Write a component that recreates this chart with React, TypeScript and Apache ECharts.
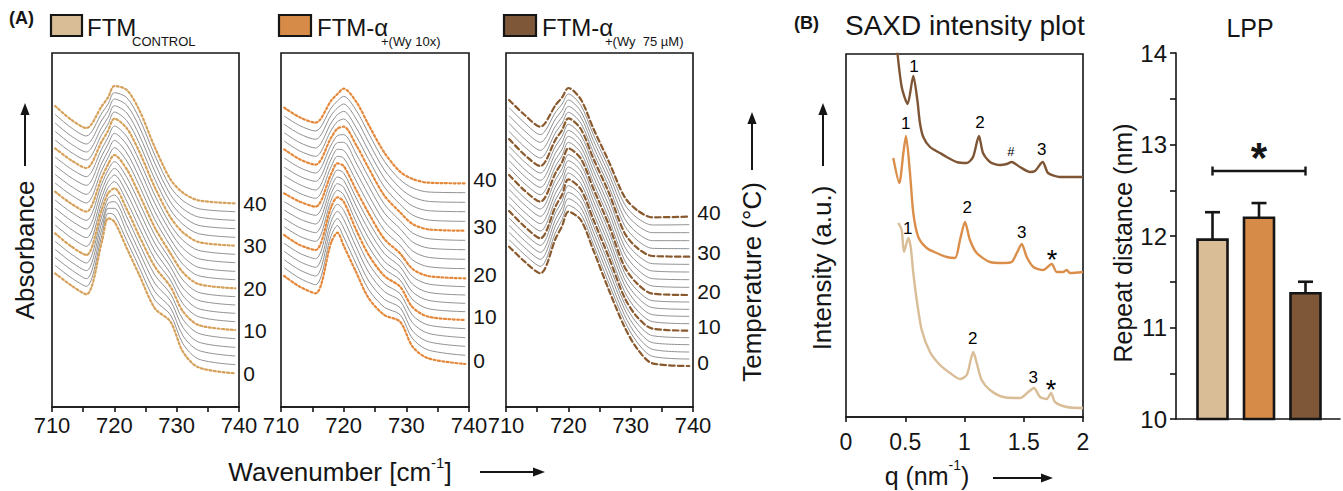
import { useEffect, useRef } from "react";
import * as echarts from "echarts";

// ---------- Panel A: temperature-dependent FTIR spectra (CH2 rocking region) ----------
const WAVENUMBER = [710.5, 713, 715.5, 718, 719, 720, 722, 724, 726.5, 729, 731, 733.5, 739.4];
const WAVENUMBER_TICKS = [710, 720, 730, 740];
const TEMPERATURE = [40, 38, 36, 34, 32, 30, 28, 26, 24, 22, 20, 18, 16, 14, 12, 10, 8, 6, 4, 2, 0];
const LABELLED_TEMPERATURE = [40, 30, 20, 10, 0];

// stacked absorbance (offset, mAU) — one row per temperature, same order as TEMPERATURE
const ABS_CONTROL = [
  [903, 863, 837, 903, 929, 963, 951, 891, 779, 683, 643, 620, 611],
  [878, 839, 813, 882, 909, 943, 928, 866, 755, 660, 619, 595, 586],
  [852, 814, 789, 861, 889, 924, 905, 841, 731, 637, 595, 570, 560],
  [827, 790, 765, 839, 869, 904, 882, 816, 707, 615, 572, 545, 535],
  [801, 765, 741, 818, 849, 885, 859, 791, 683, 592, 548, 520, 509],
  [776, 741, 717, 797, 829, 865, 836, 766, 659, 569, 524, 495, 484],
  [750, 715, 691, 775, 809, 843, 811, 740, 635, 547, 500, 470, 458],
  [724, 689, 665, 754, 789, 821, 787, 715, 611, 526, 476, 445, 433],
  [698, 663, 638, 732, 768, 800, 762, 689, 586, 504, 452, 419, 407],
  [672, 637, 612, 711, 748, 778, 738, 664, 562, 483, 428, 394, 382],
  [646, 611, 586, 689, 728, 756, 713, 638, 538, 461, 404, 369, 356],
  [621, 585, 560, 670, 711, 736, 689, 613, 515, 441, 381, 344, 331],
  [596, 560, 534, 651, 693, 716, 665, 588, 491, 421, 357, 320, 306],
  [571, 534, 508, 631, 676, 696, 641, 563, 468, 401, 334, 295, 281],
  [546, 509, 482, 612, 658, 676, 617, 538, 444, 381, 310, 271, 256],
  [521, 483, 456, 593, 641, 656, 593, 513, 421, 361, 287, 246, 231],
  [497, 460, 432, 573, 626, 636, 570, 490, 396, 340, 263, 221, 205],
  [473, 436, 409, 554, 611, 616, 546, 466, 371, 319, 239, 195, 179],
  [449, 413, 385, 534, 596, 596, 523, 443, 346, 298, 214, 170, 153],
  [425, 389, 362, 515, 581, 576, 499, 419, 321, 277, 190, 144, 127],
  [401, 366, 338, 495, 566, 556, 476, 396, 296, 256, 166, 119, 101],
];

const ABS_WY10 = [
  [898, 869, 853, 919, 939, 955, 916, 846, 763, 706, 684, 673, 671],
  [873, 844, 828, 897, 918, 932, 890, 820, 737, 682, 657, 645, 643],
  [848, 819, 803, 875, 897, 909, 864, 794, 711, 657, 630, 617, 614],
  [823, 793, 777, 852, 877, 887, 838, 768, 686, 633, 603, 589, 586],
  [798, 768, 752, 830, 856, 864, 812, 742, 660, 608, 576, 561, 557],
  [773, 743, 727, 808, 835, 841, 786, 716, 634, 584, 549, 533, 529],
  [747, 718, 702, 786, 814, 817, 759, 689, 608, 559, 522, 505, 500],
  [720, 692, 677, 764, 793, 794, 732, 662, 582, 535, 495, 477, 472],
  [694, 667, 651, 743, 773, 770, 705, 635, 556, 510, 468, 449, 443],
  [667, 641, 626, 721, 752, 747, 678, 608, 530, 486, 441, 421, 415],
  [641, 616, 601, 699, 731, 723, 651, 581, 504, 461, 414, 393, 386],
  [616, 590, 575, 679, 711, 702, 627, 556, 482, 441, 391, 369, 361],
  [591, 564, 549, 659, 690, 680, 603, 531, 460, 421, 368, 344, 336],
  [566, 538, 523, 640, 670, 659, 579, 506, 437, 401, 345, 320, 311],
  [541, 512, 497, 620, 650, 637, 555, 481, 415, 381, 322, 295, 286],
  [516, 486, 471, 600, 629, 616, 531, 456, 393, 361, 299, 271, 261],
  [491, 461, 445, 579, 608, 590, 506, 430, 370, 340, 275, 246, 235],
  [467, 436, 419, 557, 587, 563, 480, 404, 346, 319, 252, 221, 208],
  [442, 411, 393, 536, 565, 537, 455, 378, 323, 298, 228, 196, 182],
  [418, 386, 367, 514, 544, 510, 429, 352, 299, 277, 205, 171, 155],
  [393, 361, 341, 493, 523, 484, 404, 326, 276, 256, 181, 146, 129],
];

const ABS_WY75 = [
  [921, 876, 841, 907, 929, 957, 923, 836, 736, 631, 591, 569, 571],
  [898, 852, 817, 886, 909, 939, 905, 818, 717, 609, 568, 546, 547],
  [874, 828, 794, 866, 890, 921, 887, 800, 699, 588, 546, 523, 523],
  [851, 804, 770, 845, 870, 902, 870, 782, 680, 566, 523, 499, 499],
  [827, 780, 747, 825, 851, 884, 852, 764, 662, 545, 501, 476, 475],
  [804, 756, 723, 804, 831, 866, 834, 746, 643, 523, 478, 453, 451],
  [782, 735, 702, 784, 812, 848, 816, 728, 624, 503, 457, 430, 428],
  [761, 713, 680, 764, 793, 830, 798, 710, 604, 482, 435, 408, 405],
  [739, 692, 659, 744, 773, 812, 781, 692, 585, 462, 414, 385, 382],
  [718, 670, 637, 724, 754, 794, 763, 674, 565, 441, 392, 363, 359],
  [696, 649, 616, 704, 735, 776, 745, 656, 546, 421, 371, 340, 336],
  [674, 627, 594, 684, 715, 757, 727, 637, 527, 403, 351, 319, 315],
  [653, 606, 572, 664, 696, 739, 708, 619, 507, 384, 331, 298, 293],
  [631, 584, 550, 644, 676, 720, 690, 600, 488, 366, 311, 277, 272],
  [610, 563, 528, 624, 657, 702, 671, 582, 468, 347, 291, 256, 250],
  [588, 541, 506, 604, 637, 683, 653, 563, 449, 329, 271, 235, 229],
  [567, 520, 485, 585, 618, 664, 635, 545, 429, 311, 252, 214, 208],
  [545, 499, 464, 565, 599, 644, 616, 526, 410, 294, 233, 193, 187],
  [524, 478, 443, 546, 581, 625, 598, 508, 390, 276, 214, 173, 165],
  [502, 457, 422, 526, 562, 605, 579, 489, 371, 259, 195, 152, 144],
  [481, 436, 401, 507, 543, 586, 561, 471, 351, 241, 176, 131, 123],
];

// ---------- Panel B: SAXD intensity ----------
const SAXD_Q_WY75 = [0.425, 0.47, 0.52, 0.568, 0.602, 0.624, 0.652, 0.709, 0.793, 0.85, 0.934, 1.019, 1.072, 1.122, 1.156, 1.215, 1.3, 1.356, 1.398, 1.468, 1.553, 1.595, 1.66, 1.705, 1.806, 2.0];
const SAXD_I_WY75 = [375, 330, 313, 341, 317, 294, 280, 270, 264, 260, 255, 254, 260, 281, 264, 255, 252, 253, 255, 250, 245, 246, 255, 244, 240, 240];
const SAXD_Q_WY10 = [0.399, 0.45, 0.484, 0.506, 0.54, 0.568, 0.61, 0.681, 0.765, 0.85, 0.92, 0.962, 1.004, 1.046, 1.103, 1.215, 1.327, 1.398, 1.441, 1.483, 1.525, 1.581, 1.665, 1.736, 1.778, 1.834, 1.862, 1.89, 2.0];
const SAXD_I_WY10 = [259, 234, 264, 281, 244, 204, 180, 169, 164, 160, 159, 177, 195, 177, 164, 155, 154, 155, 164, 173, 160, 150, 147, 153, 145, 145, 147, 144, 145];
const SAXD_Q_CONTROL = [0.441, 0.47, 0.489, 0.526, 0.546, 0.568, 0.597, 0.639, 0.709, 0.793, 0.878, 0.962, 1.019, 1.052, 1.074, 1.103, 1.145, 1.215, 1.327, 1.468, 1.538, 1.586, 1.637, 1.694, 1.73, 1.764, 1.862, 2.0];
const SAXD_I_CONTROL = [194, 187, 165, 179, 170, 144, 117, 87, 65, 52, 44, 38, 42, 57, 65, 54, 37, 27, 20, 19, 25, 29, 20, 18, 24, 15, 10, 9];
const SAXD_Q_TICKS = [0, 0.5, 1, 1.5, 2];

const PEAK_Q = [0.574, 1.131, 1.392, 1.651, 0.504, 1.024, 1.483, 1.738, 0.521, 1.069, 1.581, 1.73];
const PEAK_I = [351, 295, 266, 268, 294, 210, 185, 164, 189, 79, 40, 34];
const PEAK_TEXT = ["1", "2", "#", "3", "1", "2", "3", "*", "1", "2", "3", "*"];

// ---------- Panel B: LPP repeat distance ----------
const LPP_GROUP = [1, 2, 3];
const LPP_MEAN = [11.96, 12.2, 11.375];
const LPP_SD = [0.3, 0.16, 0.125];
const LPP_TICKS = [10, 11, 12, 13, 14];
const LPP_SIGNIFICANCE = [[1, 3, 12.71, 12.97]]; // from group, to group, bracket level, star level

const TAN = "#D8BD97";
const ORANGE = "#D68C48";
const BROWN = "#7E5738";
const INK = "#151515";
const SANS = '"Liberation Sans", Arial, sans-serif';
const NARROW = '"Liberation Sans Narrow", "Liberation Sans", Arial, sans-serif';

function text(x: number, y: number, str: string, size: number, opts: any = {}) {
  return {
    type: "text",
    x,
    y,
    rotation: opts.rotation || 0,
    silent: true,
    style: {
      text: str,
      fontSize: size,
      fontFamily: opts.family || SANS,
      fontWeight: opts.weight || "normal",
      fill: INK,
      align: opts.align || "left",
      verticalAlign: opts.vAlign || "middle",
      rich: opts.rich,
    },
  };
}

function arrow(x1: number, y1: number, x2: number, y2: number) {
  const dx = x2 - x1;
  const dy = y2 - y1;
  const len = Math.hypot(dx, dy);
  const ux = dx / len;
  const uy = dy / len;
  const hl = 12;
  const hw = 4.6;
  const bx = x2 - ux * hl;
  const by = y2 - uy * hl;
  return [
    { type: "line", silent: true, shape: { x1, y1, x2: bx, y2: by }, style: { stroke: INK, lineWidth: 2 } },
    {
      type: "polygon",
      silent: true,
      shape: { points: [[x2, y2], [bx - uy * hw, by + ux * hw], [bx + uy * hw, by - ux * hw]] },
      style: { fill: INK },
    },
  ];
}

export default function App() {
  const ref = useRef<HTMLDivElement>(null);

  useEffect(() => {
    document.body.style.margin = "0";
    if (!ref.current) return;
    const chart = echarts.init(ref.current, undefined, { renderer: "svg" });

    const axisLine = { show: true, onZero: false, lineStyle: { color: INK, width: 1.6 } };
    const panels = [
      { rows: ABS_CONTROL, color: "#D5A15B", dash: [2, 2.4], left: 52, width: 187, labelOffset: [0, 0] },
      { rows: ABS_WY10, color: "#E4883B", dash: [2, 2.4], left: 281, width: 188, labelOffset: [0, -4] },
      { rows: ABS_WY75, color: "#8A5A2F", dash: [5.5, 3.2], left: 506, width: 187, labelOffset: [0, -4] },
    ];

    const grids: any[] = [];
    const xAxes: any[] = [];
    const yAxes: any[] = [];
    const series: any[] = [];

    panels.forEach((p, pi) => {
      grids.push({ left: p.left, top: 53, width: p.width, height: 354, show: true, borderColor: INK, borderWidth: 1.6, backgroundColor: "transparent" });
      xAxes.push({
        type: "value",
        gridIndex: pi,
        min: WAVENUMBER_TICKS[0],
        max: WAVENUMBER_TICKS[WAVENUMBER_TICKS.length - 1],
        interval: WAVENUMBER_TICKS[1] - WAVENUMBER_TICKS[0],
        axisLine,
        axisTick: { show: true, length: 5, lineStyle: { color: INK, width: 1.6 } },
        minorTick: { show: true, splitNumber: 2, length: 5, lineStyle: { color: INK, width: 1.6 } },
        splitLine: { show: false },
        axisLabel: { fontFamily: NARROW, fontSize: 22, color: INK, margin: 7, showMinLabel: true, showMaxLabel: true },
      });
      yAxes.push({ type: "value", gridIndex: pi, min: 0, max: 1062, show: false });
      TEMPERATURE.forEach((t, ti) => {
        const labelled = LABELLED_TEMPERATURE.includes(t);
        series.push({
          type: "line",
          xAxisIndex: pi,
          yAxisIndex: pi,
          data: WAVENUMBER.map((w, k) => [w, p.rows[ti][k]]),
          symbol: "none",
          smooth: 0.3,
          silent: true,
          z: labelled ? 4 : 3,
          lineStyle: labelled
            ? { color: p.color, width: 2.2, type: p.dash, cap: "round" }
            : { color: "#8a8a8a", width: 0.95 },
          endLabel: labelled
            ? { show: true, formatter: String(t), color: INK, fontSize: 21, fontFamily: SANS, distance: 8, offset: p.labelOffset }
            : { show: false },
        });
      });
    });

    // SAXD
    grids.push({ left: 846, top: 54, width: 237, height: 363, show: true, borderColor: INK, borderWidth: 1.6, backgroundColor: "transparent" });
    xAxes.push({
      type: "value",
      gridIndex: 3,
      min: SAXD_Q_TICKS[0],
      max: SAXD_Q_TICKS[SAXD_Q_TICKS.length - 1],
      interval: SAXD_Q_TICKS[1] - SAXD_Q_TICKS[0],
      axisLine,
      axisTick: { show: true, length: 5, lineStyle: { color: INK, width: 1.6 } },
      splitLine: { show: false },
      axisLabel: { fontFamily: SANS, fontSize: 23, color: INK, margin: 13, showMinLabel: true, showMaxLabel: true },
    });
    yAxes.push({ type: "value", gridIndex: 3, min: 0, max: 363, show: false });
    const saxd = [
      { q: SAXD_Q_WY75, i: SAXD_I_WY75, color: "#7E5636" },
      { q: SAXD_Q_WY10, i: SAXD_I_WY10, color: "#DA8E49" },
      { q: SAXD_Q_CONTROL, i: SAXD_I_CONTROL, color: "#D9BD97" },
    ];
    saxd.forEach((s) => {
      series.push({
        type: "line",
        xAxisIndex: 3,
        yAxisIndex: 3,
        data: s.q.map((q, k) => [q, s.i[k]]),
        symbol: "none",
        smooth: 0.25,
        clip: true,
        silent: true,
        lineStyle: { color: s.color, width: 2.4 },
      });
    });
    series.push({
      type: "scatter",
      xAxisIndex: 3,
      yAxisIndex: 3,
      symbolSize: 0,
      silent: true,
      itemStyle: { opacity: 1 },
      data: PEAK_Q.map((q, k) => ({
        value: [q, PEAK_I[k]],
        name: PEAK_TEXT[k],
        label: {
          fontSize: PEAK_TEXT[k] === "#" ? 13 : PEAK_TEXT[k] === "*" ? 27 : 17,
          offset: PEAK_TEXT[k] === "*" ? [0, 7] : [0, 0],
        },
      })),
      label: { show: true, position: "inside", formatter: "{b}", color: "#000", opacity: 1, fontFamily: SANS },
    });

    // LPP bars
    grids.push({ left: 1176, top: 53, width: 164, height: 366 });
    xAxes.push({
      type: "value",
      gridIndex: 4,
      min: 0.215,
      max: 3.742,
      axisLine,
      axisTick: { show: false },
      axisLabel: { show: false },
      splitLine: { show: false },
    });
    yAxes.push({
      type: "value",
      gridIndex: 4,
      min: LPP_TICKS[0],
      max: LPP_TICKS[LPP_TICKS.length - 1],
      interval: 1,
      axisLine,
      axisTick: { show: true, length: 6, lineStyle: { color: INK, width: 1.6 } },
      minorTick: { show: true, splitNumber: 2, length: 6, lineStyle: { color: INK, width: 1.6 } },
      splitLine: { show: false },
      axisLabel: { fontFamily: SANS, fontSize: 24, color: INK, margin: 9 },
    });
    const barColors = [TAN, ORANGE, BROWN];
    series.push({
      type: "custom",
      xAxisIndex: 4,
      yAxisIndex: 4,
      silent: true,
      data: LPP_GROUP.map((g, k) => [g, LPP_MEAN[k], LPP_SD[k]]),
      renderItem: (params: any, api: any) => {
        const g = api.value(0);
        const m = api.value(1);
        const sd = api.value(2);
        const top = api.coord([g, m]);
        const base = api.coord([g, LPP_TICKS[0]]);
        const err = api.coord([g, m + sd]);
        const hw = 15;
        return {
          type: "group",
          children: [
            { type: "line", shape: { x1: top[0], y1: top[1], x2: err[0], y2: err[1] }, style: { stroke: INK, lineWidth: 2.6 } },
            { type: "line", shape: { x1: err[0] - 7.5, y1: err[1], x2: err[0] + 7.5, y2: err[1] }, style: { stroke: INK, lineWidth: 2.6 } },
            {
              type: "rect",
              shape: { x: top[0] - hw, y: top[1], width: hw * 2, height: base[1] - top[1] },
              style: { fill: barColors[params.dataIndex], stroke: INK, lineWidth: 2.6 },
            },
          ],
        };
      },
    });
    series.push({
      type: "custom",
      xAxisIndex: 4,
      yAxisIndex: 4,
      silent: true,
      data: LPP_SIGNIFICANCE,
      renderItem: (_p: any, api: any) => {
        const a = api.coord([api.value(0), api.value(2)]);
        const b = api.coord([api.value(1), api.value(2)]);
        const s = api.coord([(api.value(0) + api.value(1)) / 2, api.value(3)]);
        const c = 4.5;
        return {
          type: "group",
          children: [
            { type: "line", shape: { x1: a[0], y1: a[1], x2: b[0], y2: b[1] }, style: { stroke: INK, lineWidth: 2.4 } },
            { type: "line", shape: { x1: a[0], y1: a[1] - c, x2: a[0], y2: a[1] + c }, style: { stroke: INK, lineWidth: 2.4 } },
            { type: "line", shape: { x1: b[0], y1: b[1] - c, x2: b[0], y2: b[1] + c }, style: { stroke: INK, lineWidth: 2.4 } },
            {
              type: "text",
              x: s[0],
              y: s[1] + 10,
              style: { text: "*", fontSize: 42, fontFamily: SANS, fontWeight: "bold", fill: INK, align: "center", verticalAlign: "middle" },
            },
          ],
        };
      },
    });

    const graphics: any[] = [
      text(9, 18, "(A)", 18, { weight: "bold" }),
      { type: "rect", silent: true, shape: { x: 51, y: 15, width: 31, height: 21 }, style: { fill: TAN, stroke: INK, lineWidth: 2.2 } },
      text(87, 27, "FTM", 24, { family: NARROW }),
      text(132, 41, "CONTROL", 13),
      { type: "rect", silent: true, shape: { x: 279, y: 15, width: 32, height: 21 }, style: { fill: ORANGE, stroke: INK, lineWidth: 2.2 } },
      text(317, 27, "FTM-α", 24, { family: NARROW }),
      text(381, 41, "+(Wy 10x)", 13),
      { type: "rect", silent: true, shape: { x: 504, y: 15, width: 32, height: 21 }, style: { fill: BROWN, stroke: INK, lineWidth: 2.2 } },
      text(542, 27, "FTM-α", 24, { family: NARROW }),
      text(605, 41, "+(Wy  75 µM)", 13),
      text(25, 250, "Absorbance", 26, { align: "center", rotation: Math.PI / 2 }),
      ...arrow(25, 166, 25, 103),
      text(752, 282, "Temperature (°C)", 26, { align: "center", rotation: Math.PI / 2 }),
      ...arrow(752, 170, 752, 112),
      text(340, 470, "{a|Wavenumber [cm}{s|-1}{a|]}", 26, {
        family: NARROW,
        align: "center",
        rich: {
          a: { fontSize: 26, fontFamily: NARROW, fill: INK, lineHeight: 30, verticalAlign: "bottom" },
          s: { fontSize: 15, fontFamily: NARROW, fill: INK, lineHeight: 15, verticalAlign: "top" },
        },
      }),
      ...arrow(480, 472, 545, 472),
      text(794, 23, "(B)", 18, { weight: "bold" }),
      text(845, 25, "SAXD intensity plot", 28),
      text(822, 268, "Intensity (a.u.)", 26, { align: "center", rotation: Math.PI / 2 }),
      ...arrow(823, 166, 823, 103),
      text(927, 473, "{a|q (nm}{s|-1}{a|)}", 25, {
        align: "center",
        rich: {
          a: { fontSize: 25, fontFamily: SANS, fill: INK, lineHeight: 30, verticalAlign: "bottom" },
          s: { fontSize: 14, fontFamily: SANS, fill: INK, lineHeight: 14, verticalAlign: "top" },
        },
      }),
      ...arrow(993, 478, 1053, 478),
      text(1250, 28, "LPP", 25, { align: "center" }),
      text(1123, 243, "Repeat distance (nm)", 25, { align: "center", rotation: Math.PI / 2 }),
    ];

    chart.setOption({
      animation: false,
      backgroundColor: "#ffffff",
      grid: grids,
      xAxis: xAxes,
      yAxis: yAxes,
      series,
      graphic: { elements: graphics },
    });

    return () => chart.dispose();
  }, []);

  return <div ref={ref} style={{ width: 1343, height: 491 }} />;
}
